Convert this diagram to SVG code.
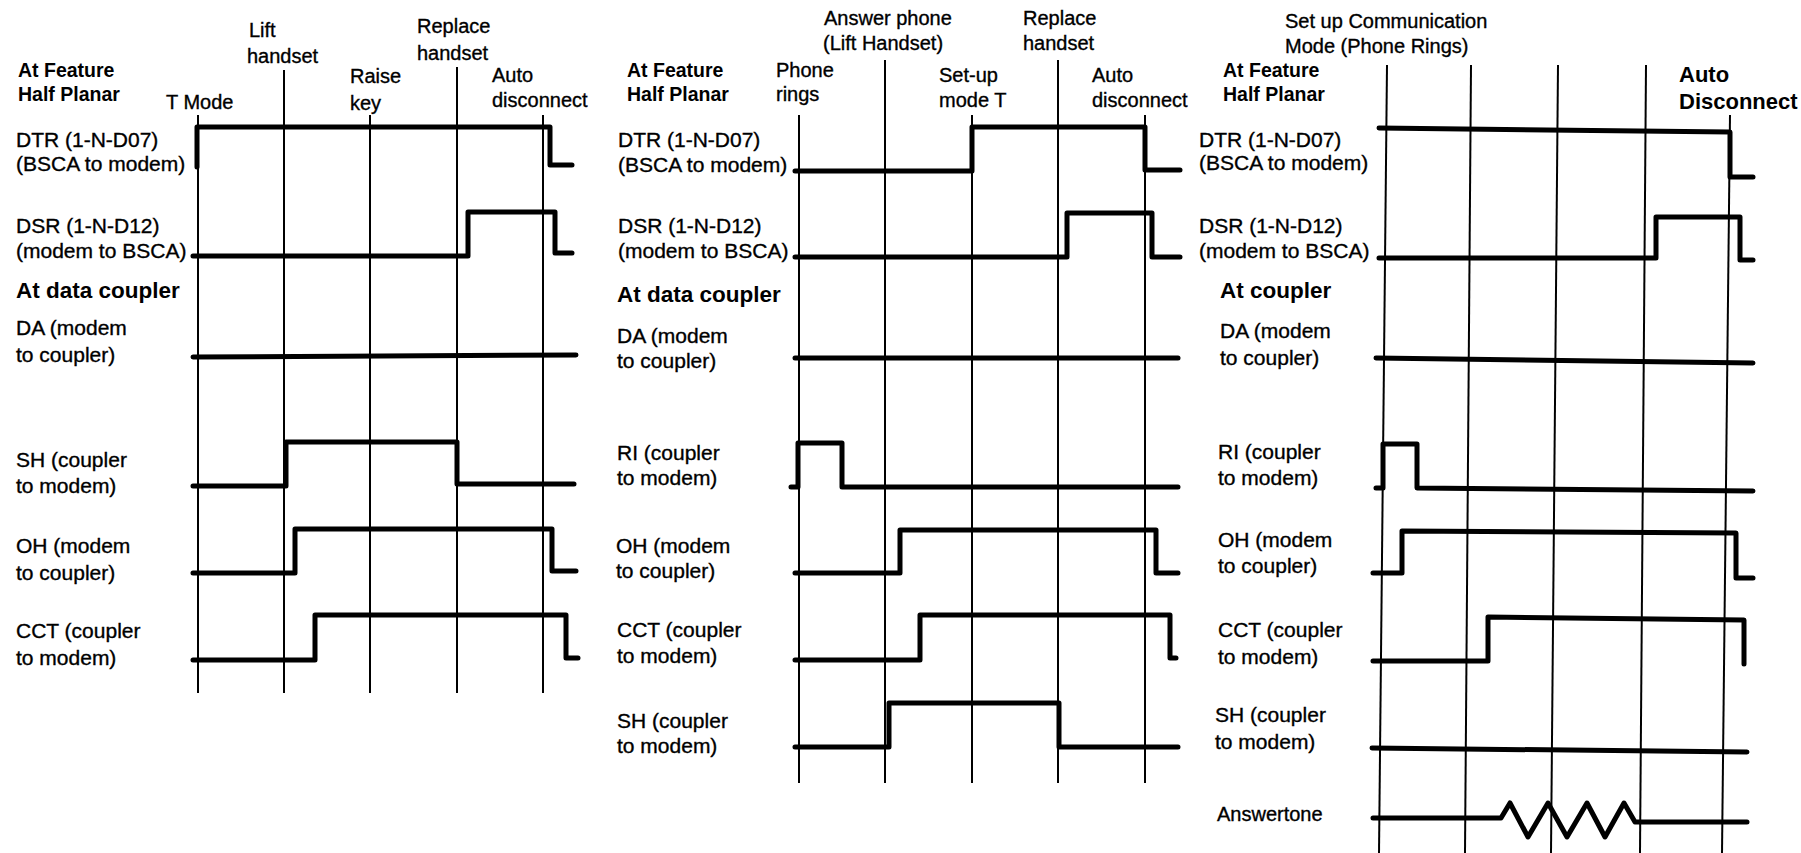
<svg xmlns="http://www.w3.org/2000/svg" width="1801" height="853" viewBox="0 0 1801 853">
<style>
.bg{fill:#fff}
.grid{stroke:#000;stroke-width:2;fill:none}
.sig{stroke:#000;stroke-width:5;fill:none;stroke-linecap:round;stroke-linejoin:round}
.t{font-family:"Liberation Sans",Arial,sans-serif;font-size:20px;fill:#000;stroke:#000;stroke-width:0.35}
.s{font-family:"Liberation Sans",Arial,sans-serif;font-size:21px;fill:#000;stroke:#000;stroke-width:0.35}
.h{font-family:"Liberation Sans",Arial,sans-serif;font-size:19.5px;font-weight:bold;fill:#000}
.hb{font-family:"Liberation Sans",Arial,sans-serif;font-size:22.5px;font-weight:bold;fill:#000}
</style>
<rect class="bg" x="0" y="0" width="1801" height="853"/>

<!-- Panel 1 -->
<g id="panel1">
  <g id="p1-grid">
    <line class="grid" x1="198" y1="115" x2="198" y2="693"/>
    <line class="grid" x1="284" y1="70" x2="284" y2="693"/>
    <line class="grid" x1="370" y1="115" x2="370" y2="693"/>
    <line class="grid" x1="457" y1="67" x2="457" y2="693"/>
    <line class="grid" x1="543" y1="115" x2="543" y2="693"/>
  </g>
  <g id="p1-events">
    <text class="t" x="249" y="37">Lift</text>
    <text class="t" x="247" y="63">handset</text>
    <text class="t" x="417" y="33">Replace</text>
    <text class="t" x="417" y="60">handset</text>
    <text class="t" x="166" y="109">T Mode</text>
    <text class="t" x="350" y="83">Raise</text>
    <text class="t" x="350" y="110">key</text>
    <text class="t" x="492" y="82">Auto</text>
    <text class="t" x="492" y="107">disconnect</text>
  </g>
  <g id="p1-labels">
    <text class="h" x="18" y="77">At Feature</text>
    <text class="h" x="18" y="101">Half Planar</text>
    <text class="s" x="16" y="147">DTR (1-N-D07)</text>
    <text class="s" x="16" y="171">(BSCA to modem)</text>
    <text class="s" x="16" y="233">DSR (1-N-D12)</text>
    <text class="s" x="16" y="258">(modem to BSCA)</text>
    <text class="hb" x="16" y="298">At data coupler</text>
    <text class="s" x="16" y="335">DA (modem</text>
    <text class="s" x="16" y="362">to coupler)</text>
    <text class="s" x="16" y="467">SH (coupler</text>
    <text class="s" x="16" y="493">to modem)</text>
    <text class="s" x="16" y="553">OH (modem</text>
    <text class="s" x="16" y="580">to coupler)</text>
    <text class="s" x="16" y="638">CCT (coupler</text>
    <text class="s" x="16" y="665">to modem)</text>
  </g>
  <g id="p1-signals">
    <path id="p1-dtr" class="sig" d="M197,167 V127 H550 V165 H572"/>
    <path id="p1-dsr" class="sig" d="M193,256 H468 V212 H555 V253 H572"/>
    <path id="p1-da" class="sig" d="M193,357 L576,355"/>
    <path id="p1-sh" class="sig" d="M193,486 H286 V442 H457 V484 H574"/>
    <path id="p1-oh" class="sig" d="M193,573 H295 V529 H552 V571 H576"/>
    <path id="p1-cct" class="sig" d="M193,660 H315 V615 H566 V658 H578"/>
  </g>
</g>

<!-- Panel 2 -->
<g id="panel2">
  <g id="p2-grid">
    <line class="grid" x1="799" y1="115" x2="799" y2="783"/>
    <line class="grid" x1="885" y1="60" x2="885" y2="783"/>
    <line class="grid" x1="972" y1="115" x2="972" y2="783"/>
    <line class="grid" x1="1058" y1="60" x2="1058" y2="783"/>
    <line class="grid" x1="1145" y1="115" x2="1145" y2="783"/>
  </g>
  <g id="p2-events">
    <text class="t" x="824" y="25">Answer phone</text>
    <text class="t" x="823" y="50">(Lift Handset)</text>
    <text class="t" x="1023" y="25">Replace</text>
    <text class="t" x="1023" y="50">handset</text>
    <text class="t" x="776" y="77">Phone</text>
    <text class="t" x="776" y="101">rings</text>
    <text class="t" x="939" y="82">Set-up</text>
    <text class="t" x="939" y="107">mode T</text>
    <text class="t" x="1092" y="82">Auto</text>
    <text class="t" x="1092" y="107">disconnect</text>
  </g>
  <g id="p2-labels">
    <text class="h" x="627" y="77">At Feature</text>
    <text class="h" x="627" y="101">Half Planar</text>
    <text class="s" x="618" y="147">DTR (1-N-D07)</text>
    <text class="s" x="618" y="172">(BSCA to modem)</text>
    <text class="s" x="618" y="233">DSR (1-N-D12)</text>
    <text class="s" x="618" y="258">(modem to BSCA)</text>
    <text class="hb" x="617" y="302">At data coupler</text>
    <text class="s" x="617" y="343">DA (modem</text>
    <text class="s" x="617" y="368">to coupler)</text>
    <text class="s" x="617" y="460">RI (coupler</text>
    <text class="s" x="617" y="485">to modem)</text>
    <text class="s" x="616" y="553">OH (modem</text>
    <text class="s" x="616" y="578">to coupler)</text>
    <text class="s" x="617" y="637">CCT (coupler</text>
    <text class="s" x="617" y="663">to modem)</text>
    <text class="s" x="617" y="728">SH (coupler</text>
    <text class="s" x="617" y="753">to modem)</text>
  </g>
  <g id="p2-signals">
    <path id="p2-dtr" class="sig" d="M795,171 H972 V127 H1145 V170 H1180"/>
    <path id="p2-dsr" class="sig" d="M795,257 H1067 V213 H1152 V257 H1180"/>
    <path id="p2-da" class="sig" d="M795,358 H1178"/>
    <path id="p2-ri" class="sig" d="M791,487 H798 V443 H842 V487 H1178"/>
    <path id="p2-oh" class="sig" d="M795,573 H900 V530 H1156 V573 H1178"/>
    <path id="p2-cct" class="sig" d="M795,660 H920 V615 H1170 V658 H1176"/>
    <path id="p2-sh" class="sig" d="M795,747 H889 V703 H1059 V747 H1178"/>
  </g>
</g>

<!-- Panel 3 -->
<g id="panel3">
  <g id="p3-grid">
    <line class="grid" x1="1387" y1="65" x2="1379" y2="853"/>
    <line class="grid" x1="1471" y1="65" x2="1465" y2="853"/>
    <line class="grid" x1="1558" y1="65" x2="1551" y2="853"/>
    <line class="grid" x1="1646" y1="65" x2="1640" y2="853"/>
    <line class="grid" x1="1730" y1="115" x2="1722" y2="853"/>
  </g>
  <g id="p3-events">
    <text class="t" x="1285" y="28">Set up Communication</text>
    <text class="t" x="1285" y="53">Mode (Phone Rings)</text>
    <text class="hb" x="1679" y="82" style="font-size:22px">Auto</text>
    <text class="hb" x="1679" y="109" style="font-size:22px">Disconnect</text>
  </g>
  <g id="p3-labels">
    <text class="h" x="1223" y="77">At Feature</text>
    <text class="h" x="1223" y="101">Half Planar</text>
    <text class="s" x="1199" y="147">DTR (1-N-D07)</text>
    <text class="s" x="1199" y="170">(BSCA to modem)</text>
    <text class="s" x="1199" y="233">DSR (1-N-D12)</text>
    <text class="s" x="1199" y="258">(modem to BSCA)</text>
    <text class="hb" x="1220" y="298">At coupler</text>
    <text class="s" x="1220" y="338">DA (modem</text>
    <text class="s" x="1220" y="365">to coupler)</text>
    <text class="s" x="1218" y="459">RI (coupler</text>
    <text class="s" x="1218" y="485">to modem)</text>
    <text class="s" x="1218" y="547">OH (modem</text>
    <text class="s" x="1218" y="573">to coupler)</text>
    <text class="s" x="1218" y="637">CCT (coupler</text>
    <text class="s" x="1218" y="664">to modem)</text>
    <text class="s" x="1215" y="722">SH (coupler</text>
    <text class="s" x="1215" y="749">to modem)</text>
    <text class="s" x="1217" y="821" style="font-size:20px">Answertone</text>
  </g>
  <g id="p3-signals">
    <path id="p3-dtr" class="sig" d="M1379,128 L1730,132 V177 H1753"/>
    <path id="p3-dsr" class="sig" d="M1379,258 H1656 V217 H1740 V260 H1753"/>
    <path id="p3-da" class="sig" d="M1376,358 L1753,363"/>
    <path id="p3-ri" class="sig" d="M1376,488 H1383 V444 H1417 V488 L1753,491"/>
    <path id="p3-oh" class="sig" d="M1373,573 H1402 V531 L1736,533 V578 H1753"/>
    <path id="p3-cct" class="sig" d="M1373,661 H1488 V617 L1744,620 V664"/>
    <path id="p3-sh" class="sig" d="M1372,748 L1747,752"/>
    <path id="p3-ans" class="sig" d="M1373,818 H1501 L1510,803 L1528,837 L1548,803 L1567,837 L1587,803 L1605,837 L1624,803 L1635,822 H1747"/>
  </g>
</g>
</svg>
